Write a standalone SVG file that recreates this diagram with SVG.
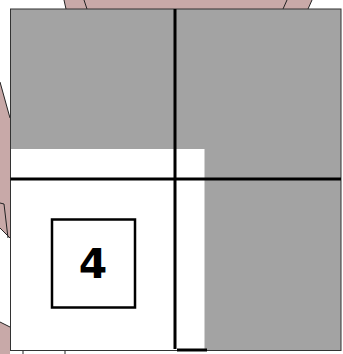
<svg xmlns="http://www.w3.org/2000/svg" width="343" height="354" viewBox="0 0 343 354">
<style>
.pink{fill:#c8a9a8;stroke:none}
.edge{stroke:#222;stroke-width:1;fill:none}
.thick{stroke:#000;stroke-width:3;fill:none}
.lbl{font-family:"DejaVu Sans",sans-serif;font-weight:bold;font-size:41px;fill:#000}
</style>
<rect width="343" height="354" fill="#fff"/>
<g id="background">
<polygon class="pink" points="64,0 312,0 308,9 66,9"/>
<line class="edge" x1="64" y1="0" x2="66" y2="9"/>
<line class="edge" x1="84" y1="0" x2="87" y2="9"/>
<line class="edge" x1="287" y1="0" x2="283" y2="9"/>
<line class="edge" x1="312" y1="0" x2="308" y2="9"/>
<polygon class="pink" points="0,82 10,118 10,238 0,228"/>
<line class="edge" x1="0" y1="82" x2="10" y2="118"/>
<polyline class="edge" points="0,203 4,204 8,238"/>
<line class="edge" x1="0" y1="228" x2="10" y2="238"/>
<polygon class="pink" points="0,322 10,327 10,354 0,354"/>
<line class="edge" x1="0" y1="322" x2="10" y2="327"/>
<line class="edge" x1="23" y1="351" x2="23" y2="354"/>
<line class="edge" x1="65" y1="351" x2="65" y2="354"/>
</g>
<g id="square">
<rect x="10.5" y="9" width="330.5" height="341.5" fill="#a3a3a3" stroke="#333" stroke-width="1"/>
<rect x="11" y="149" width="193.5" height="201" fill="#fff"/>
</g>
<g id="connectors">
<line class="thick" x1="175" y1="9" x2="175" y2="349"/>
<line class="thick" x1="10.5" y1="179" x2="341" y2="179"/>
<line class="thick" x1="177" y1="350" x2="207" y2="350"/>
</g>
<g id="node4">
<rect x="52" y="219.5" width="83" height="88" fill="#fff" stroke="#000" stroke-width="2.5"/>
<text class="lbl" x="93" y="278" text-anchor="middle">4</text>
</g>
</svg>
